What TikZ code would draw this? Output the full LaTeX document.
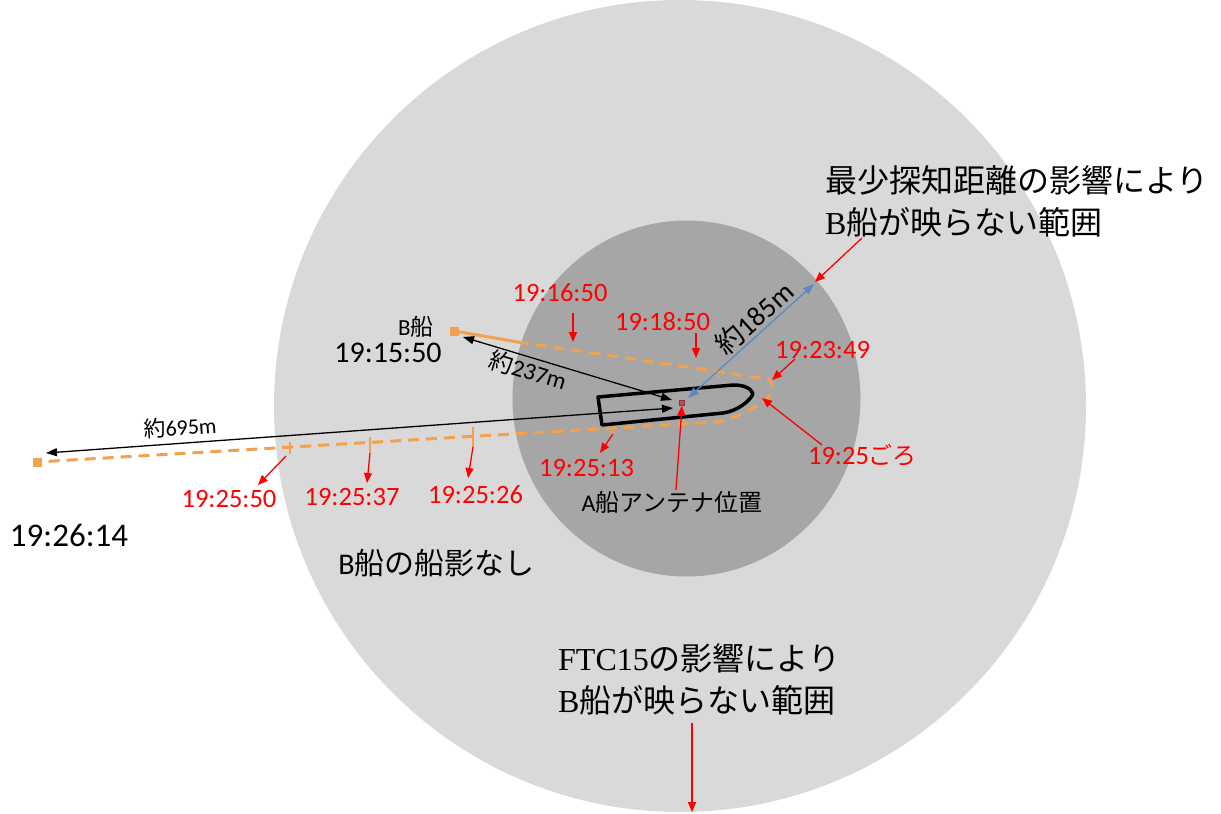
\documentclass[tikz,border=0pt]{standalone}
\usepackage{fontspec}
\setmainfont{Carlito}
\newfontfamily\jp{Noto Sans CJK JP}
\newfontfamily\serifl{Liberation Serif}
\usetikzlibrary{arrows.meta}
\definecolor{outerg}{HTML}{D9D9D9}
\definecolor{innerg}{HTML}{A6A6A6}
\definecolor{trk}{HTML}{F4A14E}
\definecolor{bluea}{HTML}{5B89C6}
\definecolor{redt}{HTML}{FF0000}
\definecolor{antc}{HTML}{C0504D}
\tikzset{
  redlbl/.style={text=redt, inner sep=0pt, font=\fontsize{26.5}{28}\selectfont},
  blklbl/.style={text=black, inner sep=0pt},
  redarrow/.style={draw=redt, line width=1.3pt, -{Triangle[length=10pt,width=8pt]}},
  blkarrow/.style={draw=black, line width=1.3pt, {Triangle[length=11pt,width=8pt]}-{Triangle[length=11pt,width=8pt]}},
  bluarrow/.style={draw=bluea, line width=1.3pt, {Triangle[length=11pt,width=8pt]}-{Triangle[length=11pt,width=8pt]}},
  trackdash/.style={draw=trk, line width=3pt, dash pattern=on 11pt off 7pt},
  tracksolid/.style={draw=trk, line width=3pt},
  tick/.style={draw=trk, line width=2pt},
  endsq/.style={fill=trk, draw=none, minimum size=9pt, inner sep=0pt},
  hull/.style={draw=black, line width=3.5pt, line join=round},
  seriflbl/.style={inner sep=0pt, align=left, anchor=west, font=\fontsize{32}{42}\selectfont}
}
\begin{document}
\begin{tikzpicture}[x=1pt,y=-1pt]
\useasboundingbox (0,0) rectangle (1221,814);
\clip (0,0) rectangle (1221,814);
\fill[white] (0,0) rectangle (1221,814);
% range circles
\fill[outerg] (680,406) circle (406);
\fill[innerg] (686.5,398.5) ellipse [x radius=174, y radius=178];

% track of ship B
\node[endsq] (sqB) at (454,331) {};
\node[endsq] (sqE) at (37,462) {};
\coordinate (tr1) at (518,342);
\coordinate (tr2) at (768,379);
\coordinate (tr3) at (755,407);
\coordinate (tr4) at (716,422);
\draw[tracksolid] (sqB.center) -- (tr1);
\draw[trackdash] (tr1) -- (tr2) .. controls (779,386) and (770,400) .. (tr3)
   .. controls (740,415) and (730,420) .. (tr4) -- (sqE.center);
% ticks
\coordinate (k1a) at (290,441.5); \coordinate (k1b) at (290,454);
\coordinate (k2a) at (370,437);   \coordinate (k2b) at (370,453);
\coordinate (k3a) at (473,427);   \coordinate (k3b) at (473,447);
\coordinate (k4a) at (613,423);   \coordinate (k4b) at (613,434);
\draw[tick] (k1a) -- (k1b);
\draw[tick] (k2a) -- (k2b);
\draw[tick] (k3a) -- (k3b);
\draw[tick] (k4a) -- (k4b);

% ship A hull
\draw[hull] (598,397) -- (602,425) -- (723,413)
  .. controls (737,411) and (749,402) .. (753,394)
  .. controls (751,388) and (744,385) .. (733,385) -- cycle;
% antenna
\node[fill=antc, draw=antc!70!black, line width=0.4pt, minimum size=5pt, inner sep=0pt] (ant) at (682,403) {};

% distance arrows
\coordinate (a695s) at (673,408); \coordinate (a695e) at (46,453);
\draw[blkarrow] (a695s) -- (a695e);
\coordinate (a237s) at (463,337); \coordinate (a237e) at (672,400);
\draw[blkarrow] (a237s) -- (a237e);
\coordinate (a185s) at (688,398); \coordinate (a185e) at (814,284);
\draw[bluarrow] (a185s) -- (a185e);

\node[blklbl, rotate=4, font=\fontsize{22}{24}\selectfont] (d695) at (180,427) {{\jp 約}695m};
\node[blklbl, rotate=-17, font=\fontsize{24}{26}\selectfont] (d237) at (528,370) {{\jp 約}237m};
\node[blklbl, rotate=42, font=\fontsize{28}{30}\selectfont] (d185) at (754,318) {{\jp 約}185m};

% red time labels
\node[redlbl] (t1650) at (560,293) {19:16:50};
\node[redlbl] (t1850) at (662.5,321.5) {19:18:50};
\node[redlbl] (t2349) at (822.5,350) {19:23:49};
\node[redlbl] (t25g) at (862.5,455) {19:25{\jp\fontsize{24}{26}\selectfont ごろ}};
\node[redlbl] (t2513) at (586.5,468) {19:25:13};
\node[redlbl] (t2526) at (475.5,495) {19:25:26};
\node[redlbl] (t2537) at (352,497) {19:25:37};
\node[redlbl] (t2550) at (229,499) {19:25:50};

\coordinate (p1650a) at (573,313); \coordinate (p1650b) at (573,342);
\coordinate (p1850a) at (696,333); \coordinate (p1850b) at (696,358);
\coordinate (p2349a) at (795,359); \coordinate (p2349b) at (772,380);
\coordinate (p25ga) at (822,445);  \coordinate (p25gb) at (762,398);
\coordinate (p2513b) at (600,453);
\coordinate (p2526b) at (468,478);
\coordinate (p2537b) at (367,483);
\coordinate (p2550a) at (286,456); \coordinate (p2550b) at (258,485);
\draw[redarrow] (p1650a) -- (p1650b);
\draw[redarrow] (p1850a) -- (p1850b);
\draw[redarrow] (p2349a) -- (p2349b);
\draw[redarrow] (p25ga) -- (p25gb);
\draw[redarrow] (k4b) -- (p2513b);
\draw[redarrow] (k3b) -- (p2526b);
\draw[redarrow] (k2b) -- (p2537b);
\draw[redarrow] (p2550a) -- (p2550b);

% antenna label
\node[blklbl, font=\fontsize{24}{26}\selectfont] (antl) at (672,502) {A{\jp 船アンテナ位置}};
\coordinate (pant) at (676,490);
\draw[redarrow] (pant) -- (ant.south);

% black labels
\node[blklbl, font=\fontsize{23}{25}\selectfont] (bship) at (416,327) {B{\jp 船}};
\node[blklbl, font=\fontsize{30}{32}\selectfont] (t1550) at (388,353) {19:15:50};
\node[blklbl, font=\fontsize{33}{35}\selectfont] (t2614) at (69,535) {19:26:14};
\node[blklbl, font=\fontsize{30}{32}\selectfont] (noshadow) at (436.5,563) {B{\jp 船の船影なし}};

% range labels
\node[seriflbl] (minrange) at (825,201) {{\jp 最少探知距離の影響により}\\{\serifl B}{\jp 船が映らない範囲}};
\coordinate (pmra) at (862,238); \coordinate (pmrb) at (815,282);
\draw[redarrow] (pmra) -- (pmrb);
\node[seriflbl] (ftc) at (558,679) {{\serifl FTC15}{\jp の影響により}\\{\serifl B}{\jp 船が映らない範囲}};
\coordinate (pfta) at (692,723); \coordinate (pftb) at (692,812);
\draw[redarrow] (pfta) -- (pftb);
\end{tikzpicture}
\end{document}
